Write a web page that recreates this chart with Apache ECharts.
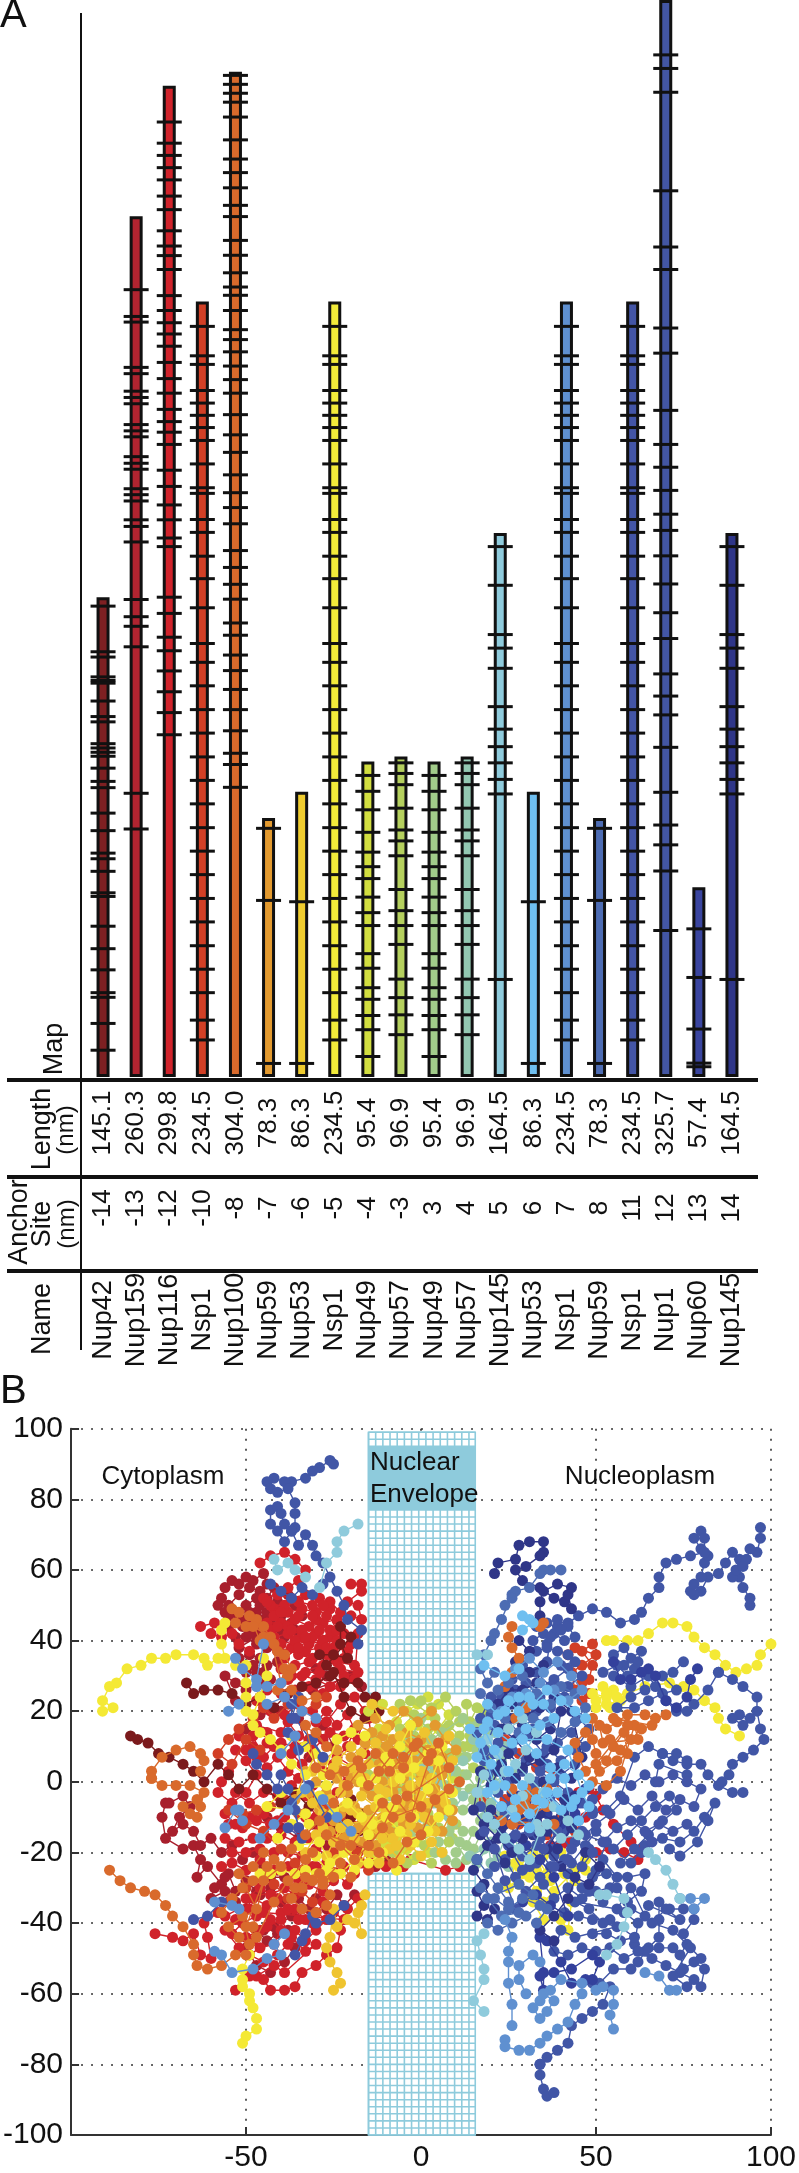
<!DOCTYPE html>
<html><head><meta charset="utf-8">
<style>html,body{margin:0;padding:0;background:#fff}#c{width:799px;height:2173px}</style>
<script src="https://cdn.jsdelivr.net/npm/echarts@6/dist/echarts.min.js"></script>
</head><body><div id="c"></div><script>
const names=['Nup42','Nup159','Nup116','Nsp1','Nup100','Nup59','Nup53','Nsp1','Nup49','Nup57','Nup49','Nup57','Nup145','Nup53','Nsp1','Nup59','Nsp1','Nup1','Nup60','Nup145'];
const anchors=['-14','-13','-12','-10','-8','-7','-6','-5','-4','-3','3','4','5','6','7','8','11','12','13','14'];
const lengthLabels=['145.1','260.3','299.8','234.5','304.0','78.3','86.3','234.5','95.4','96.9','95.4','96.9','164.5','86.3','234.5','78.3','234.5','325.7','57.4','164.5'];
const lengths=[145.1,260.3,299.8,234.5,304.0,78.3,86.3,234.5,95.4,96.9,95.4,96.9,164.5,86.3,234.5,78.3,234.5,325.7,57.4,164.5];
const barColors=['#7e2022','#b12430','#d0232b','#d24026','#d96a2c','#e39a2f','#efcc2f','#f2eb3a','#d2de40','#b5d05e','#a2cc8a','#93c8b2','#8fcbdc','#6fbff0','#5f90d0','#4d6cb3','#4355a6','#4356a4','#3a459f','#2f3688'];

const ticksNup42=[142.4,128.6,127,121,119.9,119.1,113.7,109,107.4,100.8,99.5,98.2,97,93.4,89.4,87.5,79.8,74.5,67.7,66,62.2,55.7,54.6,45.6,38.8,32.4,25.5,24.1,16.2,8.1];
const ticksNup159=[238.1,230,228.3,214.6,212.7,207.4,205.5,203.6,197.3,195.4,193.6,187.6,185.6,183.8,177.9,176.1,174.2,168.5,166.5,161.8,144.4,139.2,136.3,130.1,85.8,75];
const ticksNup116=[288.8,282.4,278.7,275,271.3,266.4,262.3,255.9,251.3,248.4,244.2,236.3,231.8,228.1,224.7,221,216.1,211.2,206.8,201.9,198.2,195,191.3,183.5,178.6,173,168.5,163,160.4,145.1,140.2,133,128.9,122.8,116.5,110.2,103.5];
const ticksNsp1=[227,218.1,215.5,207.6,203.8,200.1,196.4,192.5,185.4,178.2,176.5,168.6,164.7,157.5,150.7,141.9,131.1,125.4,118.3,111.1,104,96.8,89.7,82.6,75.4,68.3,61.2,54,46.9,39.7,32.6,25.5,17.2,11.2];
const ticksNup100=[302.9,300.2,297.5,294.8,290.3,283.4,277.6,273.5,268.9,263.6,260.2,253,248.5,243.2,238.9,236.4,231.8,226,223,219.3,215,210.9,206.8,200.3,194.2,188.9,182.1,176.7,172.2,167.3,159.2,154.1,149,144.5,137.3,133.6,127.6,122.9,117.2,111.1,104.7,97.9,94.5,87.6];
const ticksNup59=[75.2,53.4,4.1];
const ticksNup53=[53,4.1];
const ticksNup49=[91.2,86.4,80.8,74,68,63.6,60,54.4,49.7,45.8,37.3,32.9,27,23.5,18.6,14.3,6.2];
const ticksNup57=[95,91.8,88.4,81.3,74.7,71.4,66.9,56.7,50.3,45.8,40.1,29.6,24,18.8,12.8];
const ticksNup145=[160.4,148.7,133.8,129.7,123.6,112,105.2,99.9,95,90,85.6,29.5];
const ticksNup1=[309.1,305,297.8,268,251,244.2,226.5,218.9,201.6,191.3,184.4,177.4,170.2,165.3,157.6,149.1,140.4,132.6,121.9,115.2,109.5,99.7,86.1,76.2,70.2,62.3,44.3];
const ticksNup60=[44.8,30.1,14.5,4.2,3.1];
const tickSets=[ticksNup42,ticksNup159,ticksNup116,ticksNsp1,ticksNup100,ticksNup59,ticksNup53,ticksNsp1,ticksNup49,ticksNup57,ticksNup49,ticksNup57,ticksNup145,ticksNup53,ticksNsp1,ticksNup59,ticksNsp1,ticksNup1,ticksNup60,ticksNup145];

// Panel B tracks: each track is a list of segments, each segment x,y,x,y,...
const trkNup159=[[-57,52,-56,55,-54,57,-52,56,-50,58,-48,57,-45,59,-44,56,-46,54,-49,55,-52,53,-55,50,-53,48,-50,50,-47,52,-44,52,-42,55,-41,51,-44,48,-47,48,-50,46,-48,44,-45,46,-42,47,-39,49,-38,53,-36,50,-34,47,-37,45,-40,43,-44,42,-47,41,-52,38,-50,41,-47,39,-44,38,-46,35,-49,36,-52,35,-50,31,-47,31,-44,33,-41,34],[-73,-6,-74,-10,-73,-16,-68,-19,-65,-18,-63,-22,-64,-27,-61,-24,-57,-29,-55,-26,-53,-31,-50,-28,-46,-32,-43,-30,-40,-34,-37,-38,-34,-36,-30,-33,-27,-36,-24,-32,-22,-35,-19,-32],[-72,-6,-68,-4,-66,-7,-69,-10,-71,-14,-68,-12,-65,-14,-63,-18,-60,-16,-57,-20,-54,-18,-51,-22,-48,-20,-45,-24,-41,-25],[-47,-42,-44,-45,-41,-43,-38,-42,-36,-47,-39,-51,-43,-54,-47,-52,-50,-47],
[-51,44,-55,47,-58,50,-56,48,-52,46,-49,48,-46,50,-43,46,-40,47,-36,43,-39,41,-42,44,-46,43,-49,42,-53,41,-55,44,-51,33,-48,33,-45,31,-43,29,-46,28,-50,26,-53,28,-56,30,-53,23],[-30,32,-27,30,-31,26,-20,30,-17,27],[-56,-27,-59,-30,-60,-33,-56,-31,-53,-34,-50,-36,-47,-31,-43,-27,-39,-27,-35,-33,-32,-36,-45,-42,-42,-41],[-25,10,-28,16,-32,7,-35,18,-40,20,-46,19,-50,15],[-44,-10,-40,-13,-35,-16,-31,-12,-27,-18,-23,-14,-18,-18,-13,-24,-10,-22]];
const trkNup116=[[-45,52,-41,53,-37,52,-33,53,-29,52,-26,49,-30,48,-34,49,-38,48,-42,49,-44,45,-40,45,-36,46,-32,44,-28,45,-24,46,-22,42,-26,41,-30,42,-34,41,-38,42,-42,41,-41,37,-37,38,-33,37,-29,38,-25,38,-21,37,-19,33,-24,34,-28,33,-32,34,-36,33,-40,32,-38,29,-34,30,-30,29,-26,27,-22,30,-18,31,-23,32,-27,36,-31,35,-35,36,-40,39,-36,40,-32,39,-28,40,-24,40,-26,43,-30,46,-34,43,-38,44,-42,47,-43,50,-39,50,-35,51,-31,50,-27,47],[-20,56,-17,56,-17,54,-21,51,-18,50,-17,46,-20,47,-23,48,-26,51],[-63,44,-59,45,-60,42,-57,41,-54,42,-52,39,-49,37],[-46,62,-43,64,-39,65,-36,63,-33,60,-35,57,-38,55],[-57,0,-55,3,-58,-3,-54,-6,-50,-3,-47,2,-50,6,-53,9,-48,10,-45,7,-42,10,-44,14,-47,16,-40,14,-38,17,-35,13,-37,8,-34,5,-31,9,-28,12,-30,17,-27,20,-24,16,-21,19,-19,15,-21,10,-24,7,-19,4,-16,8,-14,12,-15,18,-12,22],[-55,-12,-51,-13,-47,-11,-43,-12,-39,-10,-35,-13,-32,-16,-36,-17,-40,-15,-44,-16,-48,-16,-52,-17,-56,-16,-54,-20,-50,-20,-46,-19,-42,-20,-38,-20,-34,-21,-30,-19,-26,-21,-22,-24,-26,-25,-30,-24,-34,-25],[-53,-59,-49,-55,-45,-56,-43,-59,-39,-59,-36,-58,-34,-54,-30,-52,-27,-49,-24,-47,-23,-42,-21,-36,-18,-33],[-76,-43,-71,-44,-68,-45,-65,-43,-63,-49,-60,-50,-61,-44,-62,-40,-58,-37,-55,-34],[-56,-38,-52,-36,-48,-33,-44,-35,-47,-38,-51,-40,-54,-43,-50,-44,-46,-42,-43,-39,-40,-42,-42,-46,-46,-47,-49,-49,-45,-51,-41,-49,-38,-46,-36,-42,-33,-45,-30,-42,-27,-39,-30,-37,-33,-39,-36,-36,-40,-37,-43,-32,-39,-30,-36,-32,-32,-29,-28,-31,-25,-28],[37,-18,40,-18],[45,-3,48,-2,50,-4,52,-8,55,-12,60,-17,63,-19],[-7,-24,-5,-24,-3,-22,7,-25,11,-24],
[-44,51,-40,48,-35,47,-31,47,-28,50,-24,43,-27,38,-31,41,-35,38,-39,35,-43,43,-41,44,-37,43,-33,41,-29,43,-25,35,-29,31,-33,31,-37,30,-22,35,-20,39,-18,42,-19,29,-23,27,-28,25,-32,27,-36,26,-40,25,-44,26,-47,23,-43,20,-39,19,-35,22,-31,20,-27,17,-23,22,-19,24,-16,20,-18,12,-22,13,-26,14,-32,12,-36,10,-40,11,-44,11,-47,7,-50,9,-52,13,-48,13,-44,4,-41,7,-38,3,-35,1,-31,-1,-28,3,-25,5,-21,0,-24,-3,-27,-7,-30,-10,-33,-4,-37,-1,-41,-4,-45,-3,-49,-6,-53,-3,-56,-9,-53,-12,-49,-10,-45,-9,-41,-11,-37,-7,-33,-10,-29,-14,-25,-16,-22,-14,-26,-12,-20,-19,-17,-23,-13,-21,-10,-24],[-57,-24,-54,-23,-50,-25,-46,-22,-42,-25,-38,-24,-35,-28,-31,-24,-27,-23,-24,-26,-21,-29,-19,-26,-50,-33,-46,-30,-41,-33,-38,-36,-35,-39,-31,-40,-28,-34,-25,-37,-22,-39,-45,-37,-49,-36,-53,-39,-56,-42,-52,-47,-48,-45,-44,-41,-40,-39,-37,-44,-33,-48,-30,-46,-39,-54,-42,-52,-47,-55],[50,-20,54,-19,58,-20,62,-22],[42,-17,47,-10]];
const trkNsp1a=[[49,39,46,37,49,33,48,29,46,28,48,25,46,23,44,26,43,31,46,33,50,36,44,38,42,36],[-50,-30,-46,-27,-42,-29,-38,-33,-34,-31,-31,-34,-28,-26,-25,-20,-21,-16,-18,-20,-15,-25,-17,-12,-22,-10,-27,-8,-31,-5,-35,-9,-39,-5,-43,-7,-47,-8,-51,-9,-55,-8,-50,-12,-45,-14,-40,-19,-36,-23,-31,-28],[-27,24,-30,22,-34,20,-38,22,-42,18,-45,21,-48,18,-52,15,-55,12,-58,8,-54,5,-50,12,-46,9],[18,-5,21,-10,24,-5,28,-12,32,-8,36,-15,40,-10,44,-14,40,-4,38,2,33,4,28,8,24,12]];
const trkNup100=[[-89,-25,-86,-28,-83,-30,-79,-31,-76,-32,-73,-35,-71,-38,-68,-41,-65,-46,-65,-49,-64,-52,-61,-53,-57,-52,-53,-49,-50,-49],[-77,1,-77,3,-74,7,-70,9,-66,10,-63,8,-62,6,-63,3],[-77,1,-74,-1,-70,-1,-66,-1,-62,-3,-63,-7,-64,-10,-66,-9,-68,-7,-64,-5],[-54,49,-52,48,-53,45,-50,44,-47,46,-45,41,-41,37,-39,32,-40,28,-43,41,-48,44,-45,44,-42,39,-39,36,-37,32],[-57,-37,-54,-33,-51,-30,-48,-28,-52,-26,-47,-36,-55,-41,-52,-44,-49,-46,-51,-38,-48,-41,-44,-24,-42,-22,-45,-20,-48,-24],[-34,-30,-31,-28,-28,-29,-26,-32,-27,-35,-30,-37,-34,-36,-37,-33,-36,-30,-33,-27,-29,-26],[70,19,67,18,64,19,59,19,56,17,53,15,49,18,49,12,50,8,53,6,55,10,58,14,59,8,56,6,51,3,49,0,53,-1,57,3,61,16,62,12,52,11,51,16],[26,44,25,41,26,38,28,35,26,31,24,27],[35,45,34,44],[30,21,27,18],[-25,-27,-28,-28,-23,-23,-20,-27],[-30,14,-27,10,-33,16,-30,4,-26,2,-22,3,-18,6,-15,-1,-12,3,-8,8,-5,4,-2,10,2,6,5,11,8,4,-4,-4,0,-7,-8,-10,-11,-6,-20,-18],[26,-2,30,-7,33,-3,30,-2,28,-8,32,-8,36,-2],
[-33,-15,-29,-11,-25,-6,-21,-1,-17,4,-13,8,-9,3,-5,7,-1,11,3,8,-3,-10,-7,-5,-11,-13,-15,-18,-19,-22,-23,-18,-27,-15,-12,-20,-8,-23,-4,-17,0,-15,4,-5,8,-2,11,0],[-31,-20,-38,-28,-42,-34,-47,-44,-50,-41,-45,-28,-40,-24,-37,-19,-33,-22],[54,12,57,9,60,12,63,15,66,16,55,18,59,16,50,5,47,3,45,7,44,11,47,14],[30,-4,34,-5,27,-6,36,-7,26,-12,38,-12,23,-11],[-38,30,-41,26,-37,26,-34,23,-30,24],[-46,40,-49,47]];
const trkNup42=[[-67,28,-65,25,-62,26,-58,26,-54,25,-50,22,-46,24,-42,21,-38,25,-34,27,-30,28,-26,30,-22,28,-18,28,-16,24,-13,24,-12,20,-16,18,-20,20,-22,24,-25,31,-29,36,-25,36,-21,35,-23,39,-23,44,-20,41,-27,33],[-83,13,-81,12,-78,11,-75,8,-72,7,-68,5,-65,3,-62,0,-58,5,-55,2,-52,-2,-48,2,-44,-2,-40,-6,-36,-3,-32,-7,-28,-4,-24,-8,-20,-5,-16,-9,-14,-13,-12,-12,-10,-15,-12,-18,-15,-16,-18,-14,-20,-10,-24,-12]];
const trkNup59a=[[-30,0,-27,-3,-24,1,-21,-3,-18,0,-14,-4,-11,0,-8,-3,-5,1,-2,-2,1,2,4,-2,6,2,8,-3,5,-6,1,-8,-3,-6,-7,-8,-11,-10,-15,-8,-19,-7,-23,-9,-27,-10,-30,-6,-26,-14,-22,-16,-18,-13,-14,-15,-9,-14,-5,-12,-1,-13,3,-11,6,-14,9,-8],[-28,6,-24,9,-20,7,-16,11,-12,8,-8,12,-4,14,0,12,4,16,7,12,10,9,6,7,2,9,-2,6,-7,5,-10,10,-14,14,-18,16,-13,18,-9,16,-5,20,-1,17,3,20],
[-33,3,-36,-5,-32,-3,-29,-8,-25,-11,-21,-14,-17,-17,-13,-18,-9,-11,-5,-8,-1,-5,3,-3,6,-8,9,-11],[-24,4,-20,1,-16,-2,-12,5,-8,-1,-4,-2,0,1,-11,13,-7,9,-3,11,1,7,5,4]];
const trkNup53a=[[-24,-22,-21,-19,-18,-23,-15,-20,-12,-23,-9,-19,-6,-22,-3,-18,0,-21,3,-17,6,-20],[-26,-5,-23,-3,-20,-8,-17,-4,-13,-7,-10,-3,-6,-6,-3,-1,0,-4,3,1,6,-4],[-28,-13,-25,-17,-21,-12,-16,-11,-12,-13,-8,-16,-4,-15,-2,-9,2,-6],[-25,4,-22,-1,-18,2,-15,5,-11,4,-7,2,-4,6,0,3,3,6],[-25,-59,-23,-57,-24,-54,-26,-51,-27,-47,-26,-44,-25,-36,-24,-41,-21,-39,-19,-40,-17,-43,-18,-37,-17,-35,-16,-32],
[-34,-3,-31,-6,-28,-9,-22,-7,-18,-9,-14,-11,-10,-8,-6,-10,-2,-7,1,-10,4,-14],[-27,-21,-23,-13,-19,-16,-15,-13,-11,-16,-7,-18,-3,-12,0,0,-4,3,-8,0,-12,-2,-16,1,-20,4,-24,6,-20,10,-17,8,-13,11,-9,7,-6,13,-2,9,1,14,4,9,8,13],[-30,-15,-33,-20],[-31,3,9,6,7,-6],[-10,15,-14,22,-8,20]];
const trkNsp1b=[[-91,20,-88,21,-91,23,-89,27,-87,28,-84,32,-80,33,-77,35,-73,35,-70,36,-65,36,-62,35,-61,33,-58,35,-56,35,-57,39,-57,43,-56,45],[-53,33,-50,33,-50,28,-50,24,-50,20,-48,19,-46,24,-44,30,-45,35],[-51,-74,-50,-72,-47,-70,-47,-67,-48,-64,-49,-62,-49,-60,-51,-58,-51,-56,-51,-53,-49,-49],[-46,-26,-43,-26,-40,-25,-36,-26,-33,-25,-30,-26,-27,-27,-25,-26],[100,39,97,36,96,33,93,32,90,31,87,33,84,36,81,38,78,41,76,44,72,45,69,45,65,42,62,40,59,40,55,40,53,40],[91,13,87,15,85,18,84,21,81,23,78,26,75,27,71,28,64,27,59,25,53,24,49,25,52,27,55,26,57,23,53,22,50,21],[31,-27,33,-31,32,-34,35,-39,40,-39,42,-42,43,-34,40,-20,44,-25,47,-25],[35,-21,33,-25,27,-23,25,-30,29,-26,37,-28],[-48,16,-46,14,-43,12,-40,9,-37,5,-33,2,-30,8,-27,-1,-40,-3,-44,-7,-36,-8,-32,-12,-35,-18,-29,-17,-26,-23,-22,-20,-19,-25,-15,-15,-12,-5,-8,-7,-9,5,-6,10,-3,16,-2,-10,2,-2,5,6,8,-8],
[-30,-21,-27,-25,-23,-26,-19,-22,-15,-23,-11,-20,-7,-25],[-14,-12,-10,-10,-6,-14,-2,-17,2,-14,5,-10],[-17,0,-13,1,-10,7,-6,1,-2,4,2,8,6,10,9,-3],[-29,-4,-25,-8,-21,-6,-17,-10],[-33,-9,-37,-12,-41,-16],[-37,13,-33,10,-28,2,-24,12,-20,14,-16,13],[24,-21,28,-24,32,-20,36,-26,41,-26,44,-28,47,-22,38,-31,35,-34,30,-33,28,-29],[50,23,53,25,56,24,54,21]];
const trkNup49a=[[-6,-22,-4,-19,-7,-16,-4,-13,-1,-17,2,-20,1,-14,-2,-10,-8,-12,-11,-17,-14,-20,-12,-14,-15,-10,-12,-7,-9,-4,-6,-2,-3,2,0,5,3,2,6,5,9,1],[-1,22,2,24,-4,20,-7,17,-4,13,-1,16,2,19,5,22,8,19,5,15,2,12,-1,9,-5,9,-9,12,-12,15,-15,20,-11,22],[-6,6,-3,9,0,10,3,6,-1,2,3,-1,6,-4],[-6,-8,-9,-9,-12,-11,-9,-18,-12,-22,-6,-19,-2,-22,-14,-14]];
const trkNup57a=[[0,23,3,21,7,24,10,20,8,16,11,13,14,17,16,21,13,22,14,10,11,7,15,4,12,2,8,8,5,11,2,15,-2,19,-6,15,-9,9,-12,10,-14,6,-10,2,-7,-2,-4,-6,-1,-4,2,-9,5,-13,8,-17,10,-12,-8,-20,-4,-23,-1,-21,3,-23],[-6,22,-3,23,4,18,7,15,11,17,14,13,12,10,17,15,18,20],[1,9,-2,13,-5,12,-8,6,-11,8,-13,12,-15,2,-11,-1],[-7,-14,-3,-11,0,-14,3,-12,6,-20,9,-16,1,-18]];
const trkNup49b=[[10,-20,13,-18,15,-14,12,-14,9,-12,6,-9,9,-6,12,-8,15,-5,17,-11,14,-2,10,-2,7,-1,4,3,1,-1,-2,-5,5,-17,2,-12,-3,-15,-5,-9,-10,-7,-13,-3,-9,0,-5,4,-1,7,3,9,7,6,10,11,13,7,16,9,18,4,19,14,16,16,12,18,6,14,3,12,0,18,-3,12],[4,-20,7,-22,10,-23,13,-22,8,-14,11,-17,15,-19,17,-15,19,-8,16,-2,13,2,10,3,6,2,3,5,0,2,-4,0,-8,-4,-1,-8,3,-6],[17,1,20,1,19,6,16,12]];
const trkNup57b=[[18,-19,14,-21,16,-23,20,-17,22,-21,24,-16,21,-13,18,-10,23,-9,26,-12,28,-20,25,-24,20,-23,17,-3,20,-6,23,-1,20,3,23,6,19,9,15,12,21,14,24,10,27,3,12,-4,8,-10,4,-6,0,-10,5,0,1,4,-3,5,8,3,12,6,-6,8,-10,5]];
const trkNup145a=[[-18,73,-22,71,-24,68,-24,65,-27,62,-29,55],[-42,63,-41,60,-38,62,-36,60,-33,58],[16,36,19,36],[18,-65,15,-62,18,-56,18,-53,17,-49,16,-45,18,-43],[53,-49,56,-46,58,-41,59,-37,58,-33,53,-32,51,-32],[65,-20,67,-22,70,-25,72,-29,74,-33],[16,-3,18,2,21,-2,24,3,22,8,19,12,25,15,29,18,33,14,30,9,27,5,31,1,35,-3,38,-7,42,-11,45,-15,40,-16,36,-12,33,-12,29,-4,26,-8,21,-12,19,-10,24,-16,28,-19,31,-22,34,-14]];
const trkNup53b=[[29,47,31,46,32,45,29,43],[19,22,22,19,25,23,28,20,31,24,35,22,38,18,34,16,30,15,26,11,22,14,19,17,16,7,20,5,24,-1,27,-5,31,-9,35,-6,39,-3,43,-7,41,1,37,4,33,8,29,12,36,12,42,9,46,-3,48,-7,45,-11],[18,33,24,30,28,32],[21,-1,17,11,14,15,18,15,21,9,25,3,29,-1,33,-5,37,1,41,5,45,2,48,-1,44,-5,40,-8,36,-3,31,-13,27,-10,23,-7,19,-3],[24,20,28,24,32,22,36,26,40,23,44,20,47,18]];
const trkNsp1c=[[24,-73,24,-75,28,-76,31,-76,34,-74,36,-72,39,-70,42,-68,44,-63,46,-60,46,-57,40,-56,37,-59,34,-62,32,-64,34,-67,36,-65,38,-62,35,-60],[26,-69,26,-63,25,-57,25,-51,25,-48,26,-44,24,-39],[30,-60,28,-56,28,-52,32,-49,34,-51],[55,-70,54,-66,55,-63,55,-59,52,-58,50,-59],[73,-59,71,-59,68,-55,64,-54],[27,32,31,35,35,31,39,34,43,30,46,26,42,23,38,26,34,28,30,25,26,24,23,20,19,16],[-55,20,-52,22],[-53,35,-51,32,-47,29,-45,39],[-47,27,-44,27,-40,28],[-56,-13,-53,-8,-51,-11,-52,-8],[-59,-34,-54,-35,-52,-36],[-59,-48,-57,-49,-54,-54,-48,-53,-44,-50,-40,-49,-42,-46,-39,-43],[74,-33,77,-33,81,-33,78,-36],[-40,8,-36,13,-33,-2,-38,-8,-42,-12,-46,-16],[-30,18,-34,20,-39,24,-44,22],[-28,-5,-24,-10,-20,-14]];
const trkNup59b=[[24,50,26,53,23,46,21,42,20,40,18,36,17,32,19,28,21,31],[35,60,37,60,40,60,34,59,31,55,27,54,26,52],[22,26,25,28,29,30,33,25,37,22,40,27,44,25,47,21,44,17,40,14,36,17,32,18,28,14,24,18,20,21,17,25],[16,-22,19,-26,22,-30,25,-34,28,-37,23,-38,19,-33,28,-29,32,-32,36,-36,33,-40],[19,-40,22,-42,26,-40,30,-38,34,-35,29,-33,25,-36,21,-33,17,-30]];
const trkNsp1d=[[-65,-39,-61,-38,-57,-34],[-36,-49,-34,-45,-33,-43,-31,-38,-30,-40,-26,-39,-22,-35],[-37,22,-37,18,-35,24],[-48,8,-47,5,-44,2,-41,-2,-40,2,-38,-2,-36,-8,-35,-13],[49,-5,52,-2,56,1,60,-1,64,2,68,0,72,2,76,0,80,-2,78,-7,74,-5,70,-8,66,-4,62,-8,58,-5,54,-9,50,-12,47,-15,52,-17,56,-13,60,-11,64,-14,68,-12,72,-14,76,-12,66,-17,63,-20],[24,-9,27,-15,31,-14,35,-19,39,-14,43,-19,46,-14,49,-20,46,-24,42,-22,38,-24,34,-27,30,-31,27,-36,24,-28,21,-19,18,-14],[-38,14,-35,9,-31,12,-28,7,-36,18],[-38,-13,-34,-16,-37,-6,-32,-1,-27,-10]];
const trkNup1=[[-25,90,-26,91,-29,89,-31,88,-33,86,-37,85,-39,85,-42,86,-44,85,-43,83,-41,82,-38,83,-36,79,-36,76,-36,72,-37,71,-39,68,-41,71,-43,73,-43,77,-41,78,-40,76,-39,73,-37,71,-35,67,-33,70,-31,67,-30,64,-28,62,-26,58,-24,54,-22,50,-21,46,-17,43,-18,39],[-43,56,-40,54,-37,52,-34,55,-31,53,-28,56],[94,50,94,52,92,55,91,58,89,58,90,60,91,63,89,65,87,62,85,59,82,58,80,54,78,53,77,54,78,56,80,58,81,62,82,64,80,66,78,69,80,71,81,69,81,65,77,64,73,63,70,62,68,58,68,55,65,52,63,48,61,46,57,45,53,48,49,49,45,47,42,45,39,44,36,39],[97,72,97,69,96,65,94,66,93,63,92,61],[92,-3,89,-3,85,-1,82,2,80,5,76,5,72,6,69,8,73,8,76,6,76,2,68,5,67,0],[85,31,89,29,92,27,96,24,96,20,97,15,98,12,95,9,92,7,89,5,88,2,86,0],[91,19,94,18,92,16,89,18],[85,31,82,26,78,22,76,20,73,20,70,23],[33,44,36,45,39,46,42,44,44,41,41,40,38,42,35,42,32,40,33,37,36,38,39,37,42,36,44,34,40,33,36,34,37,41,40,43,34,46],[34,-80,34,-83,35,-87,36,-89,38,-88],[34,-80,36,-78,39,-76,42,-74,43,-69,46,-67,49,-65,52,-63,54,-58,49,-57],[80,-58,81,-53,78,-51,75,-53,74,-49,76,-46,75,-43,78,-39,78,-36,75,-36,71,-36,68,-34,68,-39,68,-44,65,-47,62,-51,60,-53,55,-53,51,-57],[72,-47,68,-47,64,-48,61,-46,62,-40,58,-37,59,-34,63,-31,64,-26,59,-27,53,-26,49,-27],[49,-43,53,-43,57,-45,61,-44,54,-39,49,-39,45,-38,41,-37],[55,36,58,38,60,35,63,37,61,32,58,33,55,30,60,27,65,30,67,27],[69,8,65,10,61,7,57,-4,53,-8,49,-9,45,-6,41,-8,37,-4,33,0,29,3,25,0,21,4,18,9,21,16,17,18,20,24,24,22,27,26,30,28,34,24,38,29,42,32,46,30,42,27,37,21,33,20,29,22,26,18,31,13,35,8,39,11,43,14,47,10,44,5,40,2,36,5,32,-1,28,-4,23,-7],[21,-24,24,-22,27,-27,31,-24,35,-29,38,-33,42,-30,46,-33,50,-31,54,-30,56,-27,52,-22,48,-19,44,-17,41,-22,37,-24,33,-18,29,-21,25,-18],
[17,-7,20,-11,23,-15,26,-20,29,-25,33,-23,37,-19,41,-14,45,-11,49,-8,46,-6,42,-3,38,0,34,3,30,6,26,9,22,11,18,6,16,14,20,19,23,24,26,29,29,33,33,31,37,27,41,24,45,18,48,15,44,9,40,6,36,10,32,15,28,19,24,15,21,8,19,2,22,-3,26,-7,30,-11,34,-16,38,-21,42,-26,46,-30,50,-25,53,-17,50,-14,47,-18,43,-23],[57,-23,61,-19,65,-15,69,-11,73,-8,71,-4,67,-7,63,-11,59,-15,55,-19,60,-23,64,-18,69,-16,74,-17,78,-14,81,-10,84,-6,82,-11,79,-17,74,-21,71,-19],[52,31,56,33,59,30,62,34,64,26,60,24,56,21,61,21,65,23,69,25,73,26,69,30,72,31,75,34],[48,-31,52,-34,56,-30,60,-36,64,-38,60,-30,56,-36,44,-34,48,-36,52,-40,56,-41,44,-44,40,-42,38,-48,42,-49,46,-47,50,-48,54,-47,58,-50,62,-48,66,-50,70,-52,74,-54,78,-56,76,-58,72,-55,77,-47,80,-50,72,-42,66,-40,70,-36,74,-39,65,-35]];
const trkNup60=[[79,32,77,29,76,24,73,21,70,23,67,30,65,32,63,31,60,29,57,29,55,34],[34,-44,35,-54,35,-59,34,-55,38,-54,43,-53,49,-49,51,-51,49,-56,47,-56,43,-57,40,-51,36,-45],[47,-2,44,-9,40,-12,36,-9,33,-5,29,-11,26,-16,30,-18,34,-22,38,-27,42,-38,37,-35,33,-32,29,-34]];
const trkNup145b=[[21,59,22,62,27,63,28,67,31,68,35,68,35,65,34,64,30,61,27,60,29,57,34,55,38,52,41,51,43,49,42,53,43,55,39,56,35,54,34,51,34,47],[16,-31,18,-35,16,-38,19,-39,21,-36,18,-29,15,-25],[28,40,31,37,27,34,31,31,35,33,33,28,29,26,25,26,22,22,25,18,29,16,33,12,37,15,40,20,38,9,34,6,29,4,25,8,22,3,26,-3,30,-6,34,-9,38,-11,41,-5,43,-13,39,-19,36,-14,32,-15,28,-10,24,-12,20,-8,17,-15,20,-18,24,-23],[16,-22,19,-18,23,-13,27,-9,31,-4,35,0,39,4,43,1,46,7,43,20,38,24,34,21,30,19,26,22,23,15,27,12,31,7,27,1,23,5,20,-1,17,3,15,-8,18,-12,22,-16,26,-20,29,-16,33,-11,37,-7,41,-10,44,-4,39,-14,36,-19,40,-24,44,-27,48,-29,51,-24,47,-20,42,-33,38,-38,34,-42,38,-45]];

// draw order follows how the tracks overlap in the picture
const tracks=[trkNup159,trkNup116,trkNsp1a,trkNup42,trkNup49a,trkNup57a,trkNup49b,trkNup57b,trkNup59a,trkNup53a,trkNsp1b,trkNup1,trkNup60,trkNup145b,trkNsp1d,trkNup100,trkNup59b,trkNsp1c,trkNup145a,trkNup53b];
const trackColors=['#a81f2c','#d0222a','#d23f26','#7b1a1c','#d2de40','#b5d05e','#a2cc8a','#93c8b2','#e39a2f','#efc42f','#f4e935','#4156a6','#33409c','#2f3688','#4355a6','#d96a2c','#4d6cb3','#5f90d0','#8fcbdc','#6fbff0'];

const envelopeX=[-15,15.5];
const meshBands=[[99,25],[-26,-100]];
const solidBand=[95,77];
const envelopeColor='#8ecbdc';
const yTicks={min:-100,max:100,step:20};
const xTicks={min:-100,max:100,step:50};

const toPts=segs=>{const out=[];segs.forEach(s=>{for(let i=0;i<s.length;i+=2)out.push([s[i],s[i+1]]);out.push([null,null]);});return out;};
const tickData=[];tickSets.forEach((set,i)=>set.forEach(v=>tickData.push([i,v])));

const font='"Liberation Sans",Arial,sans-serif';
const chart=echarts.init(document.getElementById('c'),null,{renderer:'canvas',width:799,height:2173});
const hiddenCat=(data,margin,size)=>({type:'category',gridIndex:0,data,position:'bottom',axisLine:{show:false},axisTick:{show:false},splitLine:{show:false},
  axisLabel:{interval:0,rotate:90,align:'center',verticalAlign:'middle',margin,fontFamily:font,fontSize:size,color:'#111',hideOverlap:false}});
const text=(t,x,y,size,rot,align)=>({type:'text',x,y,rotation:rot||0,z:50,silent:true,style:{text:t,font:size+'px '+font,fill:'#111',align:align||'center',verticalAlign:'middle'}});
const rule=(x1,y1,x2,y2,w)=>({type:'line',z:40,silent:true,shape:{x1,y1,x2,y2},style:{stroke:'#111',lineWidth:w}});

chart.setOption({
  animation:false,
  grid:[{left:86.5,width:662,top:0,height:1077,containLabel:false},{left:67,width:714,top:1428.7,height:716.3,containLabel:false}],
  xAxis:[hiddenCat(names,243,27),hiddenCat(lengthLabels,46,26),hiddenCat(anchors,131,26),
    {type:'value',gridIndex:1,min:xTicks.min,max:xTicks.max,interval:xTicks.step,position:'bottom',
     axisLine:{show:true,onZero:false,lineStyle:{color:'#333',width:2}},axisTick:{show:true,inside:true,length:8,lineStyle:{color:'#333',width:2}},
     axisLabel:{fontFamily:font,fontSize:30,color:'#111',margin:8,formatter:v=>v===-100?'':String(v)},
     splitLine:{show:true,lineStyle:{type:[2,8],color:'#333',width:1.6}}}],
  yAxis:[{type:'value',gridIndex:0,min:0,max:325.7,show:false},
    {type:'value',gridIndex:1,min:yTicks.min,max:yTicks.max,interval:yTicks.step,position:'left',
     axisLine:{show:true,onZero:false,lineStyle:{color:'#333',width:2}},axisTick:{show:true,inside:true,length:8,lineStyle:{color:'#333',width:2}},
     axisLabel:{fontFamily:font,fontSize:30,color:'#111',margin:8},
     splitLine:{show:true,lineStyle:{type:[2,8],color:'#333',width:1.6}}}],
  series:[
    {type:'bar',xAxisIndex:0,yAxisIndex:0,barWidth:13,silent:true,
     data:lengths.map((v,i)=>({value:v,itemStyle:{color:barColors[i],borderColor:'#111',borderWidth:3}}))},
    {type:'scatter',xAxisIndex:0,yAxisIndex:0,symbol:'rect',symbolSize:[25,3],itemStyle:{color:'#111',opacity:1},silent:true,data:tickData,z:3},
    {type:'custom',xAxisIndex:3,yAxisIndex:1,silent:true,z:2,clip:false,data:[[envelopeX[0],envelopeX[1]]],
     renderItem:(p,api)=>{
       const ch=[];
       const lineSt={stroke:envelopeColor,lineWidth:1.6};
       meshBands.forEach(b=>{
         const a=api.coord([envelopeX[0],b[0]]),c=api.coord([envelopeX[1],b[1]]);
         ch.push({type:'rect',shape:{x:a[0],y:a[1],width:c[0]-a[0],height:c[1]-a[1]},style:{fill:'#fff',stroke:envelopeColor,lineWidth:1.6}});
         for(let x=envelopeX[0];x<=envelopeX[1];x+=2.05){const q=api.coord([x,b[0]]),r=api.coord([x,b[1]]);
           ch.push({type:'line',shape:{x1:q[0],y1:q[1],x2:r[0],y2:r[1]},style:lineSt});}
         for(let y=b[0];y>=b[1];y-=2){const q=api.coord([envelopeX[0],y]),r=api.coord([envelopeX[1],y]);
           ch.push({type:'line',shape:{x1:q[0],y1:q[1],x2:r[0],y2:r[1]},style:lineSt});}
       });
       const a=api.coord([envelopeX[0],solidBand[0]]),c=api.coord([envelopeX[1],solidBand[1]]);
       ch.push({type:'rect',shape:{x:a[0],y:a[1],width:c[0]-a[0],height:c[1]-a[1]},style:{fill:envelopeColor}});
       const w0=api.coord([envelopeX[0],meshBands[0][1]]),w1=api.coord([envelopeX[1],meshBands[1][0]]);
       ch.unshift({type:'rect',shape:{x:w0[0],y:w0[1],width:w1[0]-w0[0],height:w1[1]-w0[1]},style:{fill:'#fff'}});
       return {type:'group',children:ch};
     }},
    ...tracks.map((t,i)=>({type:'line',xAxisIndex:3,yAxisIndex:1,z:3+i*0.01,silent:true,data:toPts(t),
      symbol:'circle',symbolSize:11,showSymbol:true,showAllSymbol:true,connectNulls:false,clip:true,
      lineStyle:{color:trackColors[i],width:1.4},itemStyle:{color:trackColors[i],borderWidth:0}}))
  ],
  graphic:{elements:[
    text('A',0,16,40,0,'left'),text('B',0,1392,40,0,'left'),
    rule(81,13,81,1350,2),rule(7,1080,758,1080,4),rule(7,1177,758,1177,4),rule(7,1271,758,1271,4),
    text('Map',55,1049,27,Math.PI/2),
    text('Length',43,1129,27,Math.PI/2),text('(nm)',66,1130,24,Math.PI/2),
    text('Anchor',20,1222,27,Math.PI/2),text('Site',43,1224,27,Math.PI/2),text('(nm)',67,1224,24,Math.PI/2),
    text('Name',43,1319,27,Math.PI/2),
    text('Cytoplasm',163,1477,26),text('Nucleoplasm',640,1477,26),
    text('Nuclear',370,1463,26,0,'left'),text('Envelope',370,1495,26,0,'left')
  ]}
});
</script></body></html>
